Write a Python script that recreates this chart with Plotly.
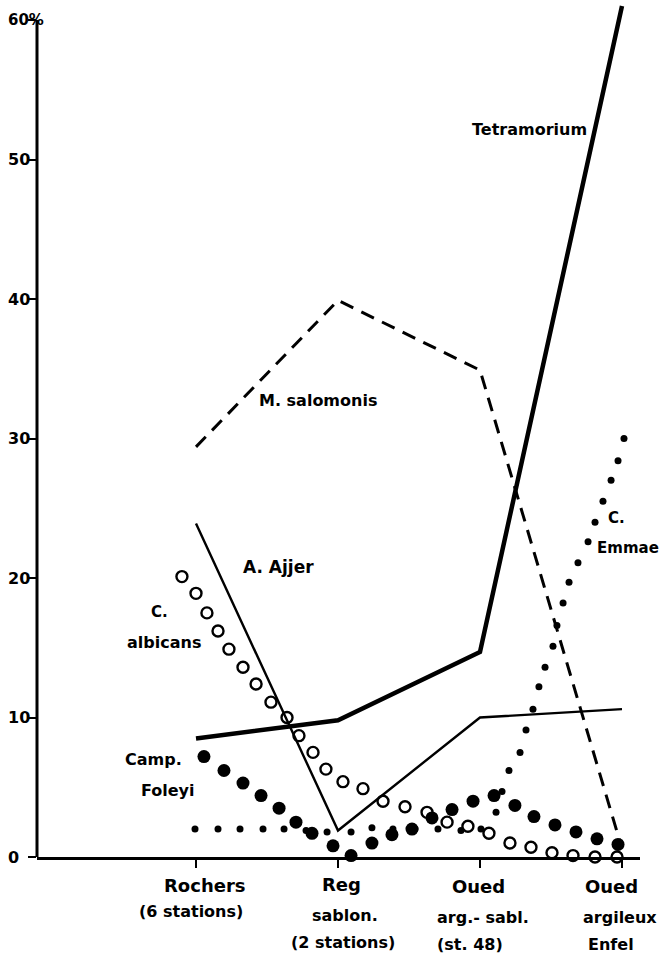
import plotly.graph_objects as go

# ---------------- data ----------------
categories = [1, 2, 3, 4]
category_labels = [
    ["Rochers", "(6 stations)"],
    ["Reg", "sablon.", "(2 stations)"],
    ["Oued", "arg.- sabl.", "(st. 48)"],
    ["Oued", "argileux", "Enfel"],
]
y_ticks = [0, 10, 20, 30, 40, 50, 60]
y_tick_text = ["0", "10", "20", "30", "40", "50", "60%"]

tetramorium = [8.5, 9.8, 14.7, 61.0]
m_salomonis = [29.4, 39.9, 34.9, 0.6]
a_ajjer = [23.9, 1.9, 10.0, 10.6]

albicans_x = [0.901, 1.000, 1.077, 1.155, 1.232, 1.331, 1.423, 1.528, 1.641, 1.725,
              1.824, 1.915, 2.035, 2.176, 2.317, 2.472, 2.627, 2.768, 2.915, 3.063,
              3.211, 3.359, 3.507, 3.655, 3.810, 3.965]
albicans_y = [20.1, 18.9, 17.5, 16.2, 14.9, 13.6, 12.4, 11.1, 10.0, 8.7,
              7.5, 6.3, 5.4, 4.9, 4.0, 3.6, 3.2, 2.5, 2.2, 1.7,
              1.0, 0.7, 0.3, 0.1, 0.0, 0.0]

foleyi_x = [1.056, 1.197, 1.331, 1.458, 1.585, 1.704, 1.817, 1.965, 2.092, 2.239,
            2.380, 2.521, 2.662, 2.803, 2.951, 3.099, 3.246, 3.380, 3.528, 3.676,
            3.824, 3.972]
foleyi_y = [7.2, 6.2, 5.3, 4.4, 3.5, 2.5, 1.7, 0.8, 0.1, 1.0,
            1.6, 2.0, 2.8, 3.4, 4.0, 4.4, 3.7, 2.9, 2.3, 1.8,
            1.3, 0.9]

emmae_x = [0.993, 1.155, 1.310, 1.472, 1.620, 1.775, 1.923, 2.092, 2.239, 2.387,
           2.542, 2.704, 2.866, 3.007, 3.113, 3.155, 3.204, 3.282, 3.324, 3.373,
           3.415, 3.458, 3.514, 3.542, 3.585, 3.627, 3.690, 3.761, 3.810, 3.866,
           3.923, 3.972, 4.014]
emmae_y = [2.0, 2.0, 2.0, 2.0, 2.0, 1.9, 1.8, 1.8, 2.1, 2.0,
           2.0, 2.0, 1.9, 2.0, 3.2, 4.7, 6.2, 7.5, 9.1, 10.6,
           12.2, 13.6, 15.1, 16.6, 18.2, 19.7, 21.1, 22.6, 24.0, 25.5,
           27.0, 28.4, 30.0]

# ---------------- layout constants ----------------
W, H = 662, 958
ML, MR, MT, MB = 37, 22, 5, 101
PX_PER_UNIT_Y = 13.95
PX_PER_CAT = 142.0
Y_TOP = (H - MT - MB) / PX_PER_UNIT_Y
X0 = 1 - (196 - ML) / PX_PER_CAT
X1 = X0 + (W - ML - MR) / PX_PER_CAT

FONT = "DejaVu Sans"
INK = "black"


def paper_xy(px, py):
    return (px - ML) / (W - ML - MR), (H - MB - py) / (H - MT - MB)


fig = go.Figure()

fig.add_trace(go.Scatter(x=categories, y=m_salomonis, mode="lines",
                         line=dict(color=INK, width=3, dash="14px,9px"),
                         hoverinfo="skip", showlegend=False))
fig.add_trace(go.Scatter(x=categories, y=a_ajjer, mode="lines",
                         line=dict(color=INK, width=2.4),
                         hoverinfo="skip", showlegend=False))
fig.add_trace(go.Scatter(x=categories, y=tetramorium, mode="lines",
                         line=dict(color=INK, width=4.5),
                         hoverinfo="skip", showlegend=False, cliponaxis=False))
fig.add_trace(go.Scatter(x=albicans_x, y=albicans_y, mode="markers",
                         marker=dict(symbol="circle-open", size=11, color=INK,
                                     line=dict(width=2.4, color=INK)),
                         cliponaxis=False, hoverinfo="skip", showlegend=False))
fig.add_trace(go.Scatter(x=foleyi_x, y=foleyi_y, mode="markers",
                         marker=dict(symbol="circle", size=13, color=INK),
                         cliponaxis=False, hoverinfo="skip", showlegend=False))
fig.add_trace(go.Scatter(x=emmae_x, y=emmae_y, mode="markers",
                         marker=dict(symbol="circle", size=7, color=INK),
                         cliponaxis=False, hoverinfo="skip", showlegend=False))

annotations = []

# species labels (text, center pixel, size)
species_labels = [
    ("Tetramorium", 529, 130, 16),
    ("M. salomonis", 318, 400, 16),
    ("A. Ajjer", 278, 567, 17),
    ("C.", 159, 612, 15),
    ("albicans", 164, 642, 16),
    ("Camp.", 153, 759, 16),
    ("Foleyi", 168, 790, 16),
    ("C.", 616, 518, 15),
    ("Emmae", 628, 548, 15),
]
for txt, px, py, sz in species_labels:
    xx, yy = paper_xy(px, py)
    annotations.append(dict(text=txt, x=xx, y=yy, xref="paper", yref="paper",
                            showarrow=False, xanchor="center", yanchor="middle",
                            font=dict(family=FONT, size=sz, color=INK, weight="bold")))

# category labels below the axis
cat_offsets = [
    [(9, 885), (-5, 911)],
    [(3, 884), (7, 915), (5, 942)],
    [(-2, 886), (3, 917), (-10, 944)],
    [(-11, 886), (-2, 917), (-11, 944)],
]
for ci, (lines, offs) in enumerate(zip(category_labels, cat_offsets)):
    for li, (txt, (dx, py)) in enumerate(zip(lines, offs)):
        annotations.append(dict(text=txt, x=categories[ci], y=0, xref="x", yref="paper",
                                xshift=dx, yshift=-(py - (H - MB)),
                                showarrow=False, xanchor="center", yanchor="middle",
                                font=dict(family=FONT, size=18 if li == 0 else 16,
                                          color=INK, weight="bold")))

# y tick labels (left aligned, hand-lettered look)
for v, t in zip(y_ticks, y_tick_text):
    annotations.append(dict(text=t, x=0, y=v, xref="paper", yref="y",
                            xshift=-31, showarrow=False, xanchor="left", yanchor="middle",
                            font=dict(family=FONT, size=16 if v < 60 else 15,
                                      color=INK, weight="bold")))

fig.update_layout(
    width=W, height=H,
    margin=dict(l=ML, r=MR, t=MT, b=MB),
    paper_bgcolor="white", plot_bgcolor="white",
    showlegend=False,
    annotations=annotations,
    shapes=[dict(type="line", xref="paper", yref="y", x0=0, x1=0, y0=0, y1=60,
                 line=dict(color=INK, width=3))],
    xaxis=dict(range=[X0, X1], showgrid=False, zeroline=False,
               showline=True, linecolor=INK, linewidth=3,
               tickvals=categories, ticks="outside", ticklen=8, tickwidth=2,
               tickcolor=INK, showticklabels=False, fixedrange=True),
    yaxis=dict(range=[0, Y_TOP], showgrid=False, zeroline=False, showline=False,
               tickvals=y_ticks, ticks="outside", ticklen=8, tickwidth=2,
               tickcolor=INK, showticklabels=False, fixedrange=True),
)

fig.write_html("out.html",
               config={"displayModeBar": False, "staticPlot": True},
               post_script="document.body.style.margin='0px';document.body.style.overflow='hidden';")
